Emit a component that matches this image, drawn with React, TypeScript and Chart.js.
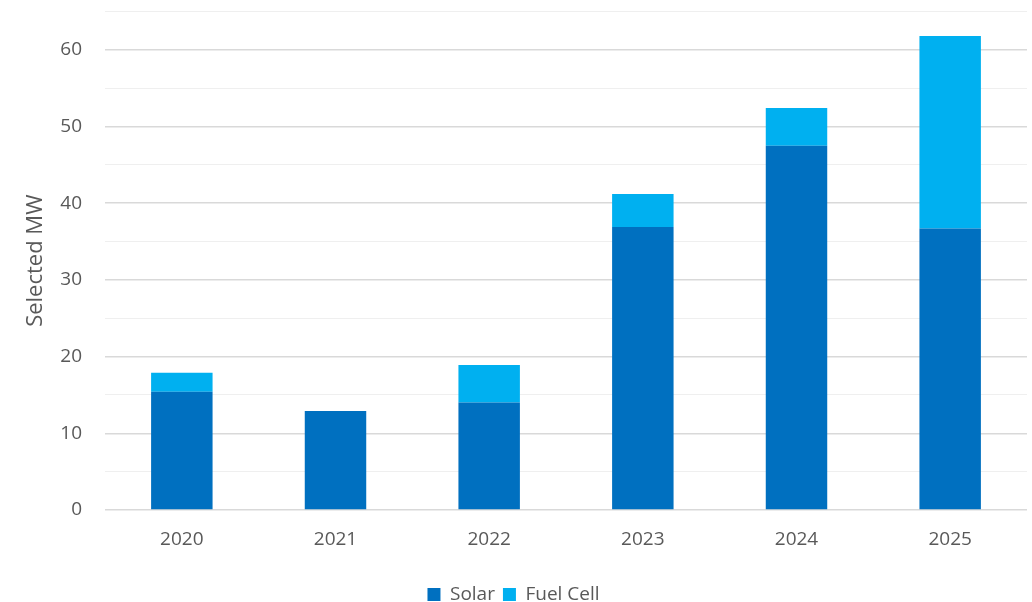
import React, { useEffect, useRef } from "react";
import { Chart, registerables } from "chart.js";

Chart.register(...registerables);

const years = ["2020", "2021", "2022", "2023", "2024", "2025"];
const solar = [15.4, 12.9, 14.0, 36.9, 47.5, 36.7];
const fuelCell = [2.5, 0, 4.9, 4.3, 4.9, 25.1];
const yMax = 65;
const yStep = 5;

const FONT = "'Open Sans', 'DejaVu Sans', sans-serif";
const TEXT = "#595959";

const legendShift = {
  id: "legendShift",
  afterLayout(chart: any) {
    if (chart.legend) {
      chart.legend.top += 12;
      chart.legend.bottom += 12;
    }
  },
};

export default function App() {
  const ref = useRef<HTMLCanvasElement | null>(null);

  useEffect(() => {
    if (!ref.current) return;
    const chart = new Chart(ref.current, {
      type: "bar",
      data: {
        labels: years,
        datasets: [
          {
            label: "Solar",
            data: solar,
            backgroundColor: "#0070C0",
            borderWidth: 0,
            barPercentage: 0.4,
            categoryPercentage: 1,
          },
          {
            label: "Fuel Cell",
            data: fuelCell,
            backgroundColor: "#00B0F0",
            borderWidth: 0,
            barPercentage: 0.4,
            categoryPercentage: 1,
          },
        ],
      },
      plugins: [legendShift],
      options: {
        animation: false,
        responsive: true,
        maintainAspectRatio: false,
        layout: { padding: { top: 0, right: 5, bottom: 0, left: 0 } },
        plugins: {
          tooltip: { enabled: false },
          legend: {
            position: "bottom",
            labels: {
              boxWidth: 13,
              boxHeight: 13,
              padding: 8,
              color: TEXT,
              font: { family: FONT, size: 19 },
            },
          },
        },
        scales: {
          x: {
            stacked: true,
            grid: { display: false, drawTicks: false },
            border: { display: false },
            ticks: { color: TEXT, font: { family: FONT, size: 19 }, padding: 18 },
            afterFit: (s: any) => {
              s.height = 55;
            },
          },
          y: {
            stacked: true,
            min: 0,
            max: yMax,
            border: { display: false },
            grid: {
              drawTicks: true,
              tickLength: 23,
              tickColor: "rgba(0,0,0,0)",
              color: (ctx: any) =>
                ctx.tick && ctx.tick.value % 10 === 0 ? "#d9d9d9" : "#efefef",
              lineWidth: (ctx: any) => (ctx.tick && ctx.tick.value % 10 === 0 ? 1.5 : 1),
            },
            ticks: {
              stepSize: yStep,
              color: TEXT,
              font: { family: FONT, size: 19 },
              padding: 0,
              callback: (v: any) => (Number(v) % 10 === 0 ? String(v) : ""),
            },
            title: {
              display: true,
              text: "Selected MW",
              color: TEXT,
              font: { family: FONT, size: 22 },
              padding: { top: 23, bottom: 0 },
            },
            afterFit: (s: any) => {
              s.width = 105;
            },
          },
        },
      },
    });
    return () => chart.destroy();
  }, []);

  return (
    <div style={{ position: "fixed", left: 0, top: 0, width: 1032, height: 602, background: "#fff" }}>
      <canvas ref={ref} />
    </div>
  );
}
